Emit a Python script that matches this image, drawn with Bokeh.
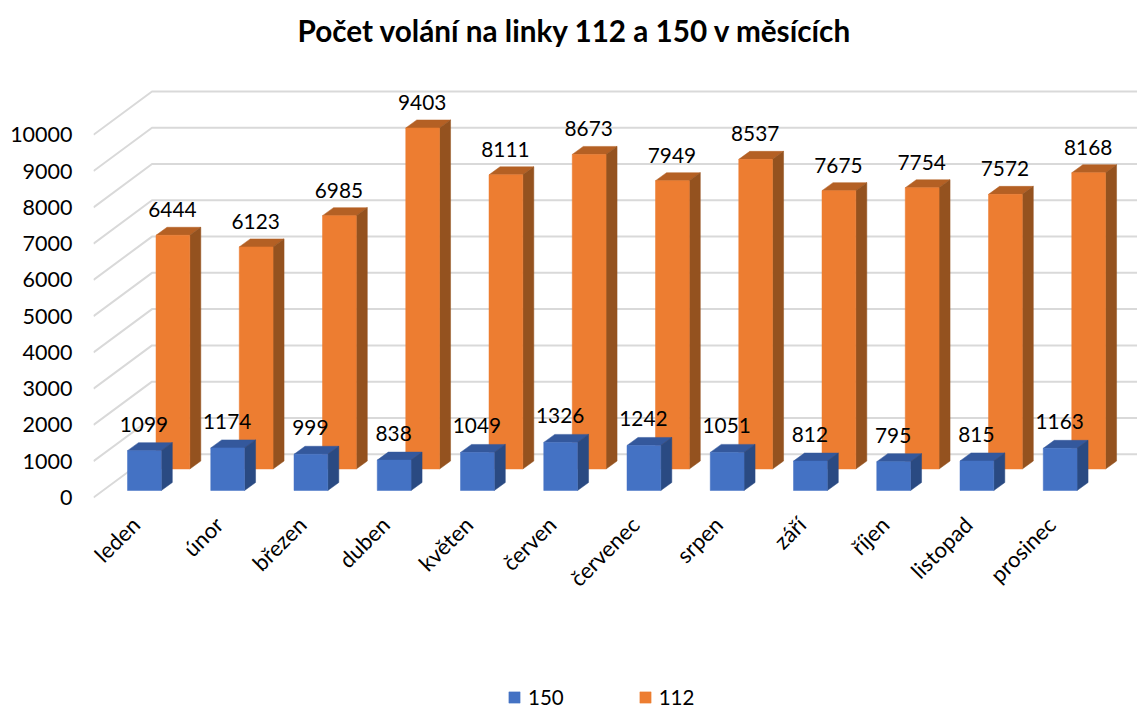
from bokeh.embed import file_html
from bokeh.resources import INLINE
from bokeh.plotting import figure
from bokeh.models import Range1d, FixedTicker, Legend, LegendItem
from bokeh.core.properties import value

chart_title = "Počet volání na linky 112 a 150 v měsících"
months = ["leden", "únor", "březen", "duben", "květen", "červen", "červenec",
          "srpen", "září", "říjen", "listopad", "prosinec"]
calls_150 = [1099, 1174, 999, 838, 1049, 1326, 1242, 1051, 812, 795, 815, 1163]
calls_112 = [6444, 6123, 6985, 9403, 8111, 8673, 7949, 8537, 7675, 7754, 7572, 8168]
y_ticks = list(range(0, 10001, 1000))

FONT = "Lato"
PX_SLOT = 83.25          # px per category
PX_VAL = 0.03627         # px per call
WALL_DX, WALL_DY = 58.5, 43.3
BAR_W, BAR_DX, BAR_DY = 33.8, 11.0, 8.0

W, H = 1137, 708
L, B = 93, 497

def xu(px):
    return px / PX_SLOT

def yu(px):
    return px / PX_VAL

p = figure(width=W, height=H, output_backend="svg", toolbar_location=None, title=None,
           x_range=Range1d(0, xu(W - L)), y_range=Range1d(-yu(H - B), yu(B)),
           min_border_left=L, min_border_right=0, min_border_top=0,
           min_border_bottom=0, outline_line_color=None)
p.background_fill_color = "white"
p.xgrid.visible = False
p.ygrid.visible = False

p.text([xu(204)], [yu(B - 30)], text=[chart_title], text_font=value(FONT), text_font_size="29.7px",
       text_font_style="bold", text_color="#000000", text_align="left", text_baseline="middle")

# gridlines on floor-side and back wall
gx = [[0, xu(WALL_DX), xu(W - L)] for _ in y_ticks]
gy = [[v, v + yu(WALL_DY), v + yu(WALL_DY)] for v in y_ticks]
p.multi_line(gx, gy, line_color="#D9D9D9", line_width=2)

def bars(vals, px_left, px_floor, front, top, side):
    xl = [i + xu(px_left) for i in range(len(vals))]
    xr = [x + xu(BAR_W) for x in xl]
    base = yu(px_floor)
    ytop = [base + v for v in vals]
    dx, dy = xu(BAR_DX), yu(BAR_DY)
    p.patches([[a, b, b + dx, a + dx] for a, b in zip(xl, xr)],
              [[t, t, t + dy, t + dy] for t in ytop],
              fill_color=top, line_color=top, line_width=0.5)
    p.patches([[b, b + dx, b + dx, b] for b in xr],
              [[base, base + dy, t + dy, t] for t in ytop],
              fill_color=side, line_color=side, line_width=0.5)
    r = p.quad(left=xl, right=xr, bottom=base, top=ytop,
               fill_color=front, line_color=front, line_width=0.5)
    return r, [(a + b) / 2 for a, b in zip(xl, xr)], ytop

r112, cx112, top112 = bars(calls_112, 155.5 - 93, 497 - 468.5, "#ED7D31", "#B46024", "#94521F")
r150, cx150, top150 = bars(calls_150, 127 - 93, 497 - 490, "#4472C4", "#34589C", "#2A4A82")

lbl = dict(text_font=value(FONT), text_font_size="20.8px", text_color="#000000",
           text_align="center", text_baseline="middle")
p.text([x - xu(0.5) for x in cx112], [t + yu(25.5) for t in top112], text=[str(v) for v in calls_112], **lbl)
p.text([x - xu(0.5) for x in cx150], [t + yu(26.5) for t in top150], text=[str(v) for v in calls_150], **lbl)

# axes
ya = p.yaxis[0]
ya.ticker = FixedTicker(ticks=y_ticks)
ya.axis_line_color = None
ya.major_tick_line_color = None
ya.minor_tick_line_color = None
ya.major_tick_out = 0
ya.major_tick_in = 0
ya.minor_tick_out = 0
ya.minor_tick_in = 0
ya.major_label_text_font = FONT
ya.major_label_text_font_size = "21.5px"
ya.major_label_text_color = "#000000"
ya.major_label_standoff = 21

xa = p.below[0]
xa.fixed_location = 0
ticks = [i + 0.5 + xu(0.5) for i in range(len(months))]
xa.ticker = FixedTicker(ticks=ticks)
xa.major_label_overrides = dict(zip(ticks, months))
xa.major_label_orientation = 0.785
xa.axis_line_color = None
xa.major_tick_line_color = None
xa.minor_tick_line_color = None
xa.major_tick_out = 0
xa.major_tick_in = 0
xa.minor_tick_out = 0
xa.minor_tick_in = 0
xa.major_label_text_font = FONT
xa.major_label_text_font_size = "22px"
xa.major_label_text_color = "#000000"
xa.major_label_standoff = 23

legend = Legend(items=[LegendItem(label=value("150"), renderers=[r150]),
                       LegendItem(label=value("112"), renderers=[r112])],
                orientation="horizontal", location=(507 - 93, -1),
                glyph_width=14, glyph_height=14, label_standoff=7, spacing=74,
                padding=0, margin=0, border_line_color=None, background_fill_color=None,
                label_text_font=FONT, label_text_font_size="20.5px", label_text_color="#000000",
                label_height=20)
p.add_layout(legend, "center")

open("out.html", "w").write(file_html(p, INLINE))
